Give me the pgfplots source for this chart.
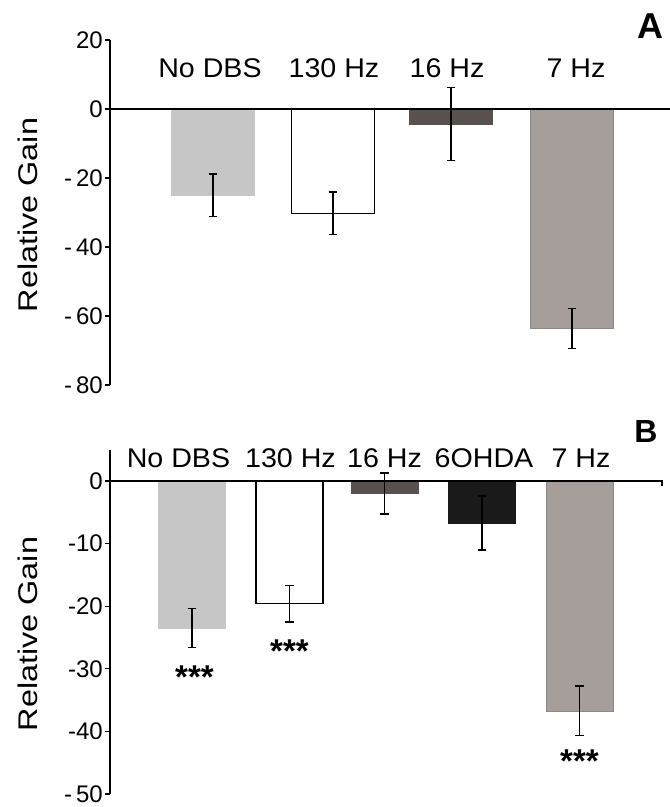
\documentclass[border=0pt]{standalone}
\usepackage{fontspec}
\setmainfont{Liberation Sans}
\newfontfamily\wide{Liberation Sans}[FakeStretch=1.06]
\newfontfamily\widelab{Liberation Sans}[FakeStretch=1.2]
\usepackage{pgfplots}
\pgfplotsset{compat=1.18}

\definecolor{nodbs}{HTML}{C6C6C6}
\definecolor{hzsixteen}{HTML}{58514E}
\definecolor{hzseven}{HTML}{A59E9B}
\definecolor{hzsevenedge}{HTML}{8E8784}
\definecolor{ohda}{HTML}{1A1A1A}

\pgfplotsset{
  panel/.style={
    scale only axis, clip=false,
    axis y line=left, axis x line=none,
    axis line style={-, line width=1.2pt},
    ytick style={line width=1.2pt, black},
    tick align=outside, major tick length=5pt,
    yticklabel style={font=\fontsize{24}{25}\selectfont, inner sep=2pt},
  },
  gbar/.style={ybar, bar shift=0pt, bar width=#1,
    error bars/y dir=both, error bars/y explicit,
    error bars/error bar style={line width=1.4pt, black},
    error bars/error mark options={rotate=90, mark size=4.3pt, line width=1.4pt, black}},
}
\tikzset{
  cat/.style={font=\wide\fontsize{27}{28}\selectfont, inner sep=0pt},
  sig/.style={font=\bfseries\fontsize{33}{34}\selectfont, inner sep=0pt, yshift=-6.7pt},
  ylab/.style={rotate=90, font=\widelab\fontsize{27}{28}\selectfont, inner sep=0pt},
}

\begin{document}
\begin{tikzpicture}
\useasboundingbox (0,0) rectangle (670pt,807pt);

% panel A
\begin{axis}[panel, at={(110pt,422pt)}, anchor=south west,
  width=560pt, height=345pt,
  xmin=110, xmax=670, ymin=-80, ymax=20,
  ytick={-80,-60,-40,-20,0,20},
  yticklabels={-\,80,-\,60,-\,40,-\,20,0,20}]
  \addplot[gbar=83, fill=nodbs, draw=nodbs] coordinates {(213,-25.0) +- (0,6.2)};
  \addplot[gbar=83, fill=white, draw=black, line width=1.3pt] coordinates {(333,-30.2) +- (0,6.1)};
  \addplot[gbar=83, fill=hzsixteen, draw=hzsixteen] coordinates {(451,-4.4) +- (0,10.6)};
  \addplot[gbar=83, fill=hzseven, draw=hzsevenedge] coordinates {(572,-63.6) +- (0,5.8)};
  \draw[line width=1.2pt] (axis cs:110,0) -- (axis cs:670,0);
  \node[cat] at (axis cs:210,11.7) {No DBS};
  \node[cat] at (axis cs:334,11.7) {130 Hz};
  \node[cat] at (axis cs:447,11.7) {16 Hz};
  \node[cat] at (axis cs:576,11.7) {7 Hz};
\end{axis}

% panel B
\begin{axis}[panel, at={(110pt,13pt)}, anchor=south west,
  width=552pt, height=344.3pt,
  xmin=110, xmax=662, ymin=-50, ymax=5,
  ytick={-50,-40,-30,-20,-10,0},
  yticklabels={-\,50,-40,-30,-20,-10,0}]
  \addplot[gbar=67, fill=nodbs, draw=nodbs] coordinates {(192,-23.5) +- (0,3.1)};
  \addplot[gbar=67, fill=white, draw=black, line width=1.3pt] coordinates {(289.5,-19.6) +- (0,2.9)};
  \addplot[gbar=67, fill=hzsixteen, draw=hzsixteen] coordinates {(384.5,-2.0) +- (0,3.3)};
  \addplot[gbar=67, fill=ohda, draw=ohda] coordinates {(482,-6.7) +- (0,4.3)};
  \addplot[gbar=67, fill=hzseven, draw=hzsevenedge] coordinates {(579.5,-36.7) +- (0,3.95)};
  \draw[line width=1.2pt] (axis cs:110,0) -- (axis cs:662,0) -- (axis cs:662,-0.8);
  \node[cat] at (axis cs:178.5,3.7) {No DBS};
  \node[cat] at (axis cs:290.5,3.7) {130 Hz};
  \node[cat] at (axis cs:384.5,3.7) {16 Hz};
  \node[cat] at (axis cs:484,3.7) {6OHDA};
  \node[cat] at (axis cs:581,3.7) {7 Hz};
  \node[sig] at (axis cs:194.5,-30.3) {***};
  \node[sig] at (axis cs:289.5,-26.1) {***};
  \node[sig] at (axis cs:579.5,-43.7) {***};
\end{axis}

\node[ylab] at (27.5pt,592pt) {Relative Gain};
\node[ylab] at (27.5pt,173pt) {Relative Gain};
\node[font=\bfseries\fontsize{36}{37}\selectfont, inner sep=0pt] at (650.7pt,781pt) {A};
\node[font=\bfseries\fontsize{32}{33}\selectfont, inner sep=0pt] at (646pt,375.5pt) {B};
\end{tikzpicture}
\end{document}
